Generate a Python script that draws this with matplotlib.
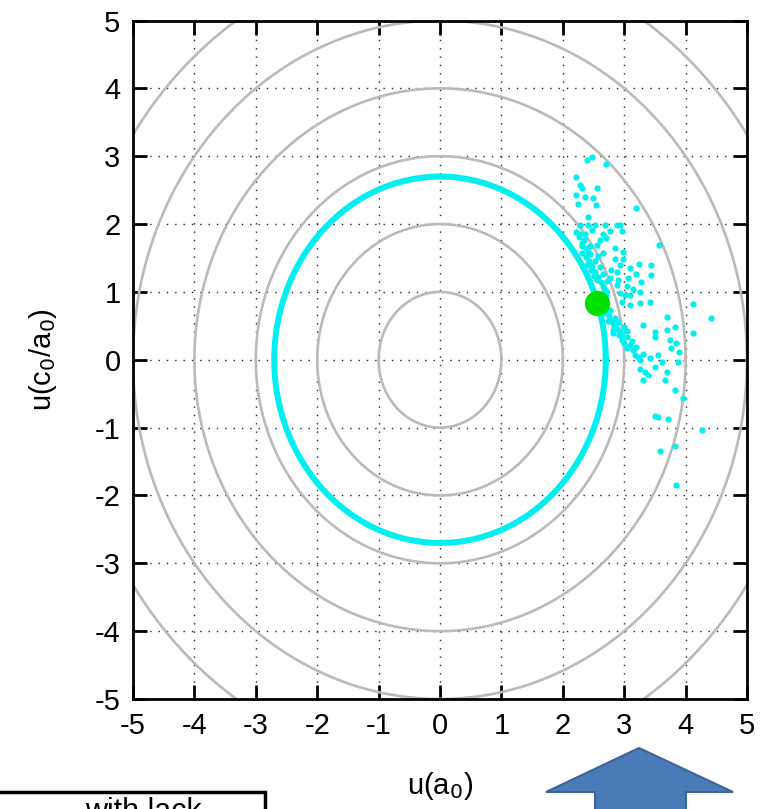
import matplotlib
matplotlib.use("Agg")
import matplotlib.pyplot as plt
import numpy as np
from matplotlib.patches import Polygon, Rectangle

plt.rcParams['font.family'] = ['Liberation Sans', 'DejaVu Sans']

# ---- data ----
ticks = [-5, -4, -3, -2, -1, 0, 1, 2, 3, 4, 5]
circle_radii = [1, 2, 3, 4, 5, 6]
ring_radius = 2.7
green_x = [2.56]
green_y = [0.83]

scatter_x = [2.39, 2.47, 2.71, 2.22, 2.28, 2.31, 2.55, 2.22, 2.36, 2.49, 2.25, 2.54, 3.20, 2.41,
             2.28, 2.41, 2.52, 2.68, 2.88, 2.93, 2.47, 2.66, 2.77, 2.96, 2.28, 2.36, 2.60, 2.71,
             2.55, 2.31, 3.57, 2.85, 2.98, 2.66, 2.41, 2.85, 2.98, 2.93, 3.24, 3.43, 2.79, 2.88,
             3.09, 3.20, 3.44, 2.77, 2.90, 3.06, 3.28, 2.88, 3.04, 3.15, 3.25, 2.93, 3.01, 3.09,
             2.96, 3.09, 3.25, 3.42, 4.12,
             4.42, 3.69, 3.82, 3.69, 3.50, 3.31, 4.12, 2.77, 2.85, 2.93, 3.04, 3.12, 3.20, 3.31,
             2.82, 2.96, 3.04, 3.50, 3.74, 3.85, 3.90, 3.77, 3.42, 3.55, 3.61, 3.50, 3.69, 3.88,
             3.25, 3.34, 3.31, 3.39, 3.25, 3.66, 3.82, 3.96, 3.50, 3.55, 3.71, 4.26, 3.82, 3.58,
             3.85,
             2.32, 2.37, 2.42, 2.40, 2.47, 2.46, 2.53, 2.51, 2.58, 2.56, 2.63, 2.65, 2.67, 2.71,
             2.70, 2.37, 2.31, 2.45, 2.53, 2.60, 2.66, 2.72, 2.27, 2.35, 2.22, 2.44, 2.58,
             2.67, 2.71, 2.75, 2.73, 2.80, 2.83, 2.81, 2.89, 2.91, 2.97, 3.00, 3.10, 3.15, 3.17,
             3.23, 2.77, 2.85, 2.90, 3.00, 3.05]
scatter_y = [2.94, 2.99, 2.89, 2.70, 2.57, 2.53, 2.53, 2.43, 2.40, 2.38, 2.29, 2.28, 2.24, 2.11,
             1.99, 1.99, 1.98, 1.99, 1.98, 1.99, 1.91, 1.86, 1.90, 1.90, 1.85, 1.85, 1.76, 1.79,
             1.69, 1.67, 1.69, 1.64, 1.59, 1.57, 1.59, 1.49, 1.49, 1.40, 1.41, 1.39, 1.32, 1.30,
             1.35, 1.27, 1.25, 1.20, 1.17, 1.20, 1.15, 1.10, 1.08, 1.05, 1.00, 0.98, 0.95, 0.96,
             0.85, 0.81, 0.83, 0.85, 0.82,
             0.61, 0.63, 0.49, 0.44, 0.41, 0.51, 0.40, 0.59, 0.49, 0.41, 0.34, 0.27, 0.19, 0.09,
             0.39, 0.29, 0.17, 0.34, 0.29, 0.24, 0.12, 0.17, 0.02, 0.07, -0.03, -0.10, -0.18, -0.03,
             -0.13, -0.18, -0.30, -0.23, 0.00, -0.30, -0.45, -0.57, -0.83, -0.84, -0.88, -1.04, -1.27, -1.34,
             -1.85,
             1.58, 1.52, 1.46, 1.40, 1.38, 1.32, 1.30, 1.24, 1.22, 1.17, 1.15, 1.09, 1.04, 1.02,
             0.97, 1.64, 1.72, 1.56, 1.46, 1.36, 1.26, 1.16, 1.81, 1.77, 1.88, 1.68, 1.53,
             0.74, 0.69, 0.64, 0.57, 0.55, 0.50, 0.44, 0.45, 0.36, 0.38, 0.25, 0.22, 0.14, 0.07,
             0.04, 0.73, 0.62, 0.55, 0.48, 0.42]

W, H = 767, 809
fig = plt.figure(figsize=(W / 100, H / 100), dpi=100)
fig.patch.set_facecolor('white')
ax = fig.add_axes([133 / W, 1 - 699 / H, 614 / W, 678.5 / H])

t = np.linspace(0, 2 * np.pi, 721)
for r in circle_radii:
    ax.plot(r * np.cos(t), r * np.sin(t), color='#bababa', lw=1.9, zorder=2)
ax.plot(ring_radius * np.cos(t), ring_radius * np.sin(t), color='#00f0f0', lw=4.3, zorder=3)
ax.scatter(scatter_x, scatter_y, s=20, color='#00f0f0', linewidths=0, zorder=4)
ax.scatter(green_x, green_y, s=330, color='#00e000', linewidths=0, zorder=5)

ax.set_xlim(-5, 5)
ax.set_ylim(-5, 5)
ax.set_xticks(ticks)
ax.set_yticks(ticks)
ax.set_xticklabels([str(v) for v in ticks])
ax.set_yticklabels([str(v) for v in ticks])
ax.grid(True, color='#222222', lw=1.0, linestyle=(0, (1, 5)), zorder=1)
ax.set_axisbelow(True)
ax.tick_params(direction='in', length=10, width=2, top=True, right=True,
               labelsize=21, pad=9)
for s in ax.spines.values():
    s.set_linewidth(2)
ax.set_xlabel('u(a$_0$)', fontsize=21, labelpad=22)
ax.set_ylabel('u(c$_0$/a$_0$)', fontsize=21, labelpad=26)

# overlay annotations (cropped in the reference)
def fp(x, y):
    return (x / W, 1 - y / H)

arrow = Polygon([fp(639, 748), fp(733, 792), fp(686, 792), fp(686, 815), fp(595, 815),
                 fp(595, 792), fp(546, 792)], closed=True, transform=fig.transFigure,
                facecolor='#4a7ab8', edgecolor='#3b6596', lw=1.5, clip_on=False)
fig.add_artist(arrow)
box = Rectangle(fp(-5, 815), 270 / W, 23 / H, transform=fig.transFigure,
                facecolor='white', edgecolor='black', lw=2.5, clip_on=False)
fig.add_artist(box)
fig.text(85 / W, 1 - 797 / H, 'with lack', fontsize=22, va='top', ha='left')

fig.savefig('out.png', dpi=100)
